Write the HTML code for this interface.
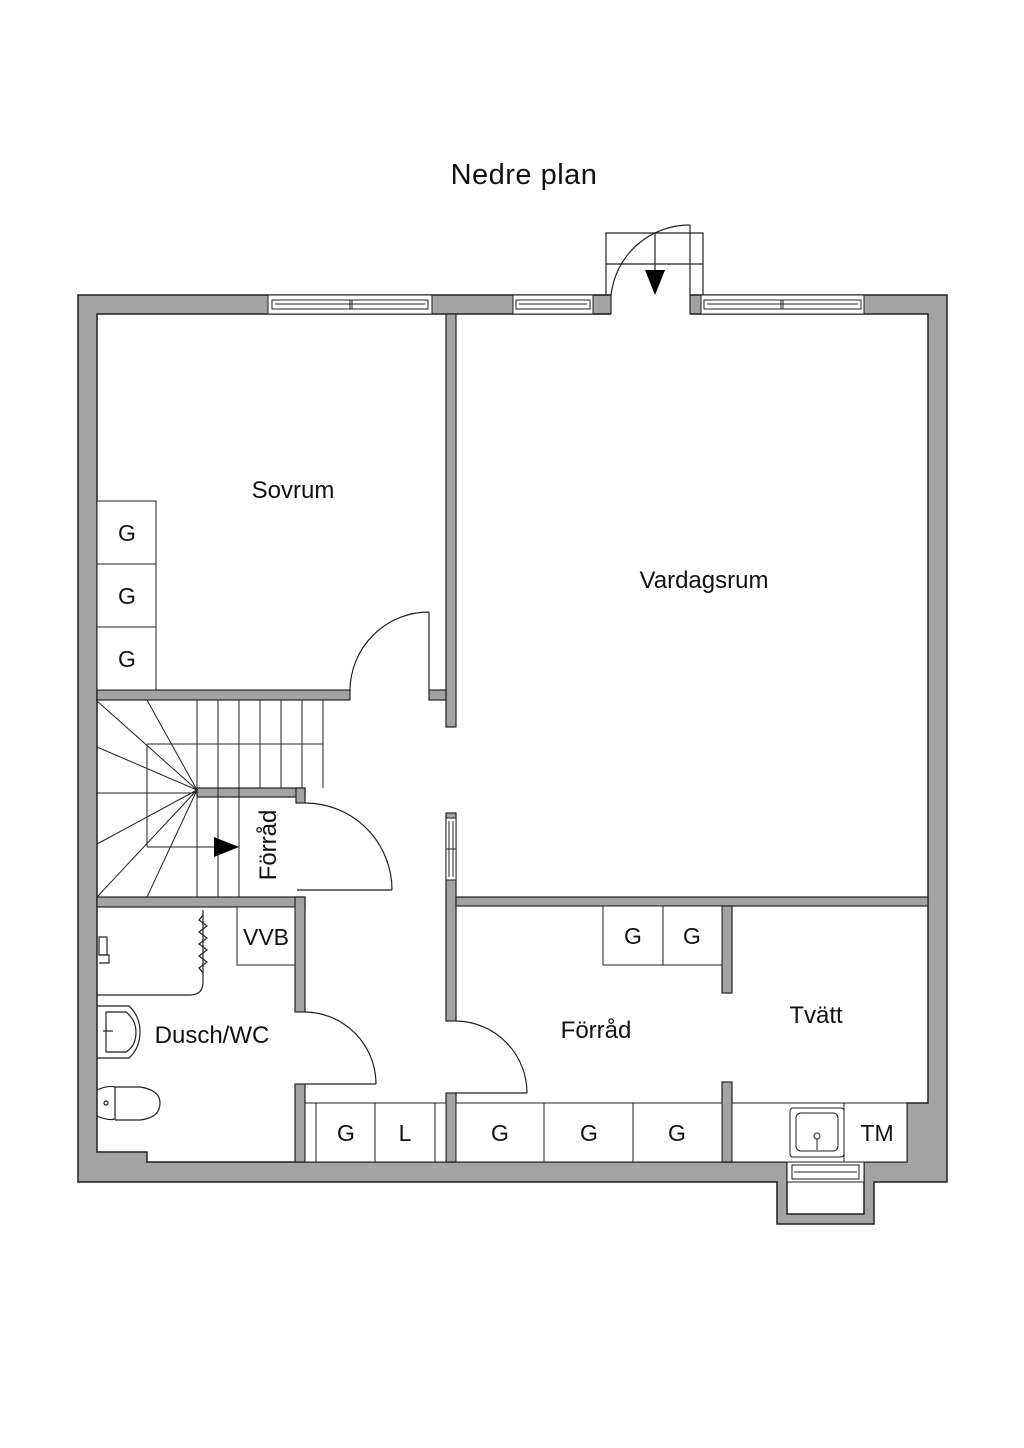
<!DOCTYPE html>
<html><head><meta charset="utf-8"><style>
html,body{margin:0;padding:0;background:#fff;}
svg{display:block;}
text{font-family:"Liberation Sans",sans-serif;fill:#111;}
</style></head><body>
<svg width="1024" height="1448" viewBox="0 0 1024 1448" xmlns="http://www.w3.org/2000/svg">
<rect width="1024" height="1448" fill="#fff"/>
<text x="524" y="184" font-size="29" text-anchor="middle" letter-spacing="0.5">Nedre plan</text>

<!-- outer walls -->
<path fill-rule="evenodd" fill="#a3a3a3" stroke="#222" stroke-width="1.5"
 d="M78 295 H947 V1182 H874 V1224 H777 V1182 H78 Z
    M97 314 V1152 H147 V1162 H787 V1214 H864 V1162 H907 V1103 H928 V314 Z"/>

<!-- interior walls -->
<g fill="#a3a3a3" stroke="#222" stroke-width="1.2">
<rect x="97" y="690" width="253" height="10"/>
<rect x="446" y="314" width="10" height="413"/>
<rect x="429" y="690" width="17" height="10"/>
<rect x="197" y="788" width="108" height="9"/>
<rect x="296" y="788" width="9" height="15"/>
<rect x="97" y="897" width="208" height="10"/>
<rect x="295" y="897" width="10" height="115"/>
<rect x="295" y="1084" width="10" height="78"/>
<rect x="446" y="813" width="10" height="208"/>
<rect x="446" y="1093" width="10" height="69"/>
<rect x="456" y="897" width="472" height="9"/>
<rect x="722" y="906" width="10" height="87"/>
<rect x="722" y="1082" width="10" height="80"/>
</g>

<!-- windows top -->
<g fill="#fff" stroke="#222" stroke-width="1">
<rect x="268" y="295" width="164" height="19"/>
<rect x="272" y="300" width="156" height="9"/>
<line x1="275" y1="304" x2="425" y2="304"/>
<line x1="350" y1="300" x2="350" y2="309"/>
<line x1="352" y1="300" x2="352" y2="309"/>
<rect x="513" y="295" width="80" height="19"/>
<rect x="516" y="300" width="74" height="9"/>
<line x1="519" y1="304" x2="587" y2="304"/>
<rect x="701" y="295" width="163" height="19"/>
<rect x="704" y="300" width="157" height="9"/>
<line x1="707" y1="304" x2="858" y2="304"/>
<line x1="781" y1="300" x2="781" y2="309"/>
<line x1="783" y1="300" x2="783" y2="309"/>
<rect x="611" y="294" width="79" height="21" stroke="none"/>
<rect x="446" y="818" width="10" height="62"/>
<line x1="449" y1="821" x2="449" y2="877"/><line x1="453" y1="821" x2="453" y2="877"/>
<line x1="446" y1="849" x2="456" y2="849"/>
<rect x="787" y="1162" width="77" height="20"/>
<rect x="792" y="1165" width="67" height="14"/>
<line x1="794" y1="1172" x2="857" y2="1172"/>
</g>
<g stroke="#222" stroke-width="1.2" fill="none">
<line x1="593" y1="295" x2="611" y2="295"/><line x1="611" y1="295" x2="611" y2="314"/>
<line x1="593" y1="314" x2="611" y2="314"/>
<line x1="690" y1="295" x2="701" y2="295"/><line x1="690" y1="295" x2="690" y2="314"/>
<line x1="690" y1="314" x2="701" y2="314"/>
<polyline points="606,295 606,233 703,233 703,295"/>
<line x1="606" y1="264" x2="703" y2="264"/>
<line x1="690" y1="225" x2="690" y2="295"/>
<path d="M611 295 A79 79 0 0 1 690 225"/>
<line x1="655" y1="233" x2="655" y2="270"/>
</g>
<polygon points="645,270 665,270 655,295" fill="#000"/>

<!-- doors -->
<g stroke="#222" stroke-width="1.2" fill="none">
<line x1="429" y1="612" x2="429" y2="690"/>
<path d="M350 690 A79 79 0 0 1 429 612"/>
<line x1="297" y1="890" x2="392" y2="890"/>
<path d="M305 803 A87 87 0 0 1 392 890"/>
<line x1="305" y1="1084" x2="376" y2="1084"/>
<path d="M305 1012 A72 72 0 0 1 376 1084"/>
<line x1="456" y1="1093" x2="527" y2="1093"/>
<path d="M456 1021 A72 72 0 0 1 527 1093"/>
</g>

<!-- stairs -->
<g stroke="#222" stroke-width="1" fill="none">
<line x1="323" y1="700" x2="323" y2="788"/>
<line x1="197" y1="744" x2="323" y2="744"/>
<line x1="197" y1="700" x2="197" y2="897"/>
<line x1="218" y1="700" x2="218" y2="897"/>
<line x1="239" y1="700" x2="239" y2="897"/>
<line x1="260" y1="700" x2="260" y2="788"/>
<line x1="281" y1="700" x2="281" y2="788"/>
<line x1="302" y1="700" x2="302" y2="788"/>
<line x1="147" y1="744" x2="197" y2="744"/>
<line x1="147" y1="744" x2="147" y2="847"/>
<line x1="97" y1="793" x2="197" y2="793"/>
<line x1="147" y1="847" x2="216" y2="847"/>
<line x1="197" y1="790" x2="147" y2="700"/>
<line x1="197" y1="790" x2="97" y2="701"/>
<line x1="197" y1="790" x2="97" y2="747"/>
<line x1="197" y1="790" x2="97" y2="844"/>
<line x1="197" y1="790" x2="97" y2="897"/>
<line x1="197" y1="790" x2="147" y2="897"/>
</g>
<polygon points="214,837 239,847 214,857" fill="#000"/>
<text transform="translate(276,845) rotate(-90)" font-size="24" text-anchor="middle">Förråd</text>

<!-- cabinets -->
<g fill="#fff" stroke="#222" stroke-width="1">
<rect x="97" y="501" width="59" height="63"/>
<rect x="97" y="564" width="59" height="63"/>
<rect x="97" y="627" width="59" height="63"/>
<rect x="237" y="907" width="58" height="58"/>
<rect x="603" y="906" width="60" height="59"/>
<rect x="663" y="906" width="59" height="59"/>
<rect x="305" y="1103" width="141" height="59"/>
<line x1="316" y1="1103" x2="316" y2="1162"/>
<line x1="375" y1="1103" x2="375" y2="1162"/>
<line x1="435" y1="1103" x2="435" y2="1162"/>
<rect x="456" y="1103" width="88" height="59"/>
<rect x="544" y="1103" width="89" height="59"/>
<rect x="633" y="1103" width="89" height="59"/>
<rect x="732" y="1103" width="175" height="59"/>
<line x1="844" y1="1103" x2="844" y2="1162"/>
<rect x="790" y="1108" width="54" height="49" rx="3"/>
<rect x="796" y="1113" width="42" height="38" rx="5"/>
<circle cx="817" cy="1136" r="3"/>
<line x1="817" y1="1139" x2="817" y2="1150"/>
</g>
<g font-size="23" text-anchor="middle">
<text x="127" y="541">G</text><text x="127" y="604">G</text><text x="127" y="667">G</text>
<text x="266" y="945">VVB</text>
<text x="633" y="944">G</text><text x="692" y="944">G</text>
<text x="346" y="1141">G</text><text x="405" y="1141">L</text>
<text x="500" y="1141">G</text><text x="589" y="1141">G</text><text x="677" y="1141">G</text>
<text x="877" y="1141">TM</text>
</g>

<!-- bathroom fixtures -->
<g stroke="#222" stroke-width="1.2" fill="none">
<path d="M97 995 H190 Q203 995 203 982 V910"/>
<path d="M203 915 l-4 5 l8 6 l-8 6 l8 6 l-8 6 l8 6 l-8 6 l8 6 l-8 6 l4 5"/>
<rect x="99" y="937" width="8" height="18"/>
<path d="M99 955 h10 v8 h-10"/>
<path d="M97 1006 H129 Q140 1016 140 1032 Q140 1048 129 1058 H97"/>
<path d="M106 1012 H126 Q136 1020 136 1032 Q136 1046 126 1052 H106 Z"/>
<line x1="103" y1="1031" x2="113" y2="1031"/>
<path d="M97 1090 Q108 1085 115 1087 V1119 Q108 1121 97 1116"/>
<path d="M115 1087 H140 Q160 1090 160 1103 Q160 1118 140 1120 H115"/>
<circle cx="106" cy="1103" r="2"/>
</g>

<!-- room labels -->
<g font-size="24" text-anchor="middle">
<text x="293" y="498">Sovrum</text>
<text x="704" y="588">Vardagsrum</text>
<text x="212" y="1043">Dusch/WC</text>
<text x="596" y="1038">Förråd</text>
<text x="816" y="1023">Tvätt</text>
</g>
</svg>
</body></html>
